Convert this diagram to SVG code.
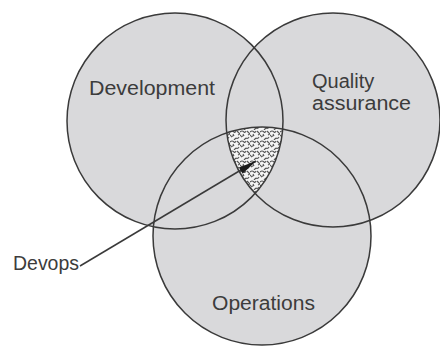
<svg xmlns="http://www.w3.org/2000/svg" width="440" height="347" viewBox="0 0 440 347">
  <style>
    .circ { fill: #d9d9db; }
    .outline { fill: none; stroke: #3a3a3a; stroke-width: 1.5; }
    .lbl { font-family: "Liberation Sans", Arial, sans-serif; font-size: 20px; fill: #3c3c3c; }
    .leader { stroke: #3a3a3a; stroke-width: 1.5; fill: none; }
  </style>
  <defs>
    <clipPath id="cDev"><circle cx="175" cy="121" r="108"/></clipPath>
    <clipPath id="cQA"><circle cx="333" cy="120" r="107"/></clipPath>
    <pattern id="hatch" width="10" height="10" patternUnits="userSpaceOnUse">
      <rect width="10" height="10" fill="#f4f4f4"/>
      <path d="M0 2 q2 -2 4 0 q1 1 2 -1 M7 1 l3 3 M1 7 l3 -2 M6 8 q2 1 3 -1 M4 10 l2 -2 M0 5 l1 1 M8 5 l2 -1 M3 4 l1 2" stroke="#555" stroke-width="1.1" fill="none"/>
    </pattern>
    <marker id="arrowBig" viewBox="0 0 20 10" refX="20" refY="5" markerWidth="20" markerHeight="9" markerUnits="userSpaceOnUse" orient="auto">
      <path d="M0 1.5 L20 5 L0 9.5 Z" fill="#1a1a1a"/>
    </marker>
  </defs>

  <g id="fills">
    <circle class="circ" cx="175" cy="121" r="108"/>
    <circle class="circ" cx="333" cy="120" r="107"/>
    <circle class="circ" cx="262" cy="236" r="109"/>
    <g clip-path="url(#cDev)"><g clip-path="url(#cQA)">
      <circle cx="262" cy="236" r="109" fill="url(#hatch)"/>
    </g></g>
  </g>

  <g id="development">
    <circle class="outline" cx="175" cy="121" r="108"/>
    <text class="lbl" x="89" y="95" textLength="126" lengthAdjust="spacingAndGlyphs">Development</text>
  </g>
  <g id="quality-assurance">
    <circle class="outline" cx="333" cy="120" r="107"/>
    <text class="lbl" x="312" y="88">Quality</text>
    <text class="lbl" x="312" y="110" textLength="99" lengthAdjust="spacingAndGlyphs">assurance</text>
  </g>
  <g id="operations">
    <circle class="outline" cx="262" cy="236" r="109"/>
    <text class="lbl" x="212" y="310" textLength="103" lengthAdjust="spacingAndGlyphs">Operations</text>
  </g>
  <g id="devops">
    <text class="lbl" x="13" y="270" textLength="66" lengthAdjust="spacingAndGlyphs">Devops</text>
  </g>

  <g id="connectors">
    <line class="leader" x1="80" y1="266" x2="256" y2="161" marker-end="url(#arrowBig)"/>
  </g>
</svg>
